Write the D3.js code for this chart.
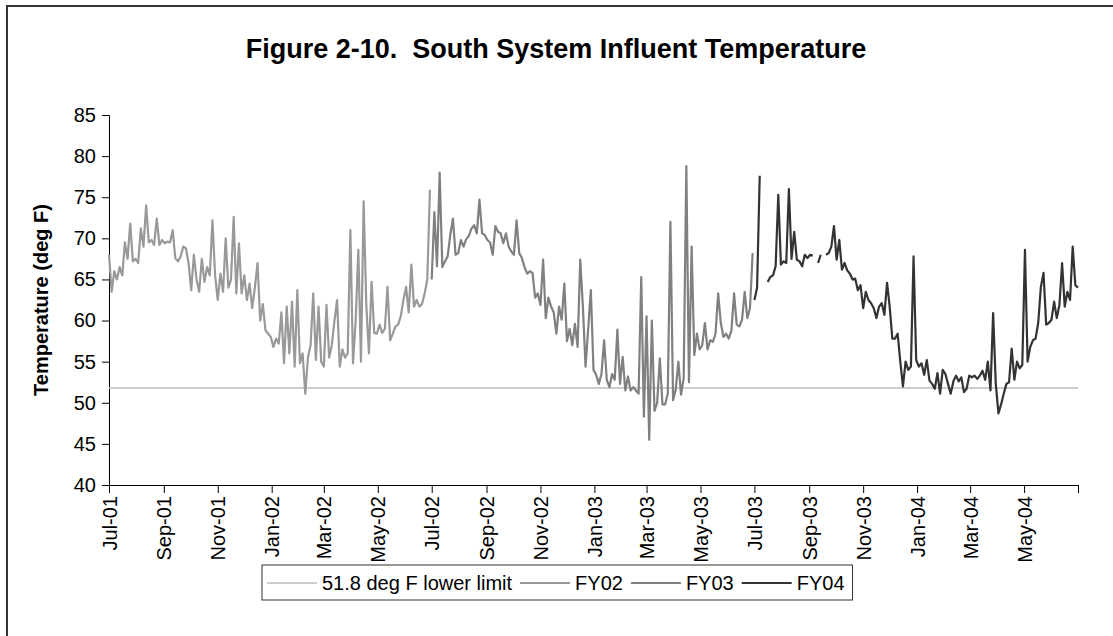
<!DOCTYPE html>
<html><head><meta charset="utf-8">
<script src="https://cdn.jsdelivr.net/npm/d3@7"></script>
<style>
body{margin:0;background:#fff}
text{font-family:"Liberation Sans",Arial,sans-serif;fill:#000}
</style>
</head><body><svg id="c" width="1113" height="636"></svg>
<script>
// ---- data (3-day sampling) ----
const stepDays = 3;
const fy02Start = [2001, 6, 1];
const fy03Start = [2002, 6, 1];
const fy04Start = [2003, 6, 1];
const fy02Temps = [
68.0,63.5,66.0,65.0,66.5,65.5,69.5,67.5,71.8,67.2,
67.5,67.0,71.2,69.0,74.0,69.5,69.8,69.2,72.4,69.2,
69.8,69.4,69.6,69.5,71.0,67.6,67.2,67.8,69.0,68.8,
67.0,63.7,68.0,65.0,63.5,67.5,64.7,66.5,65.5,72.2,
65.5,62.5,65.7,63.5,70.0,64.0,65.0,72.6,63.3,69.4,
63.3,65.5,62.5,64.5,61.5,64.0,67.0,60.0,62.0,58.8,
58.4,58.0,56.8,57.8,57.2,61.0,54.8,61.7,56.0,62.3,
54.4,63.7,54.8,56.0,51.1,55.5,57.0,63.3,55.2,61.7,
55.0,54.4,61.9,55.5,57.0,60.0,62.5,54.4,56.5,55.5,
56.0,71.0,54.8,60.0,68.6,55.0,74.5,62.0,56.0,64.7,
58.5,58.4,59.5,58.5,59.0,64.1,57.6,58.4,59.3,59.5,
60.5,62.5,64.1,61.0,66.8,61.7,62.5,61.7,62.0,63.3,
65.0,75.9];
const fy03Temps = [
65.0,73.2,66.6,78.0,66.5,67.2,67.8,70.4,72.4,68.0,
68.2,69.8,69.0,69.9,70.3,71.2,71.6,70.6,74.7,70.6,
70.4,69.8,69.5,68.0,71.5,70.8,70.6,69.4,70.6,69.0,
68.4,68.0,72.2,68.2,67.6,66.5,65.7,66.0,65.8,62.8,
63.3,61.9,67.4,60.3,62.8,61.7,61.0,58.4,61.7,60.1,
64.5,57.5,59.0,57.0,59.6,56.8,67.4,61.7,54.4,59.0,
63.7,54.0,53.4,52.3,53.5,57.6,52.8,51.9,53.5,52.8,
58.9,52.3,55.6,51.5,53.2,51.5,51.9,51.5,51.1,65.3,
48.3,60.5,45.5,60.0,49.0,50.0,55.4,49.8,49.8,51.1,
72.0,50.3,51.6,55.0,51.0,53.0,78.8,52.5,69.0,55.8,
58.4,56.5,57.0,59.7,56.5,57.6,57.4,58.4,63.3,59.7,
58.0,58.4,57.8,58.8,63.3,59.5,59.3,60.1,63.5,60.3,
61.5,68.2];
const fy04Temps = [
62.5,64.0,77.6,null,null,64.7,65.3,65.5,66.6,75.3,
66.8,67.2,67.0,76.0,67.5,70.8,67.4,67.2,66.6,68.0,
67.6,68.0,67.9,null,67.0,68.0,null,68.0,68.2,69.0,
71.5,67.4,69.8,66.2,67.0,66.1,65.7,65.0,65.1,63.7,
64.3,61.5,63.5,62.5,62.1,61.5,60.3,61.7,62.1,60.7,
64.6,61.7,57.8,57.8,58.4,55.0,52.0,55.0,54.0,54.4,
67.8,55.2,54.4,54.8,53.4,55.2,52.7,52.3,51.7,53.6,
51.1,54.0,53.5,52.3,51.1,52.6,53.3,52.6,53.1,51.3,
51.7,53.3,53.1,53.3,52.9,53.3,53.9,52.8,55.0,51.5,
60.9,52.3,48.7,49.8,51.1,52.3,52.5,56.6,52.8,55.0,
54.2,54.6,68.6,55.0,56.8,57.6,57.8,59.7,64.1,65.8,
59.5,59.7,60.1,62.3,60.3,61.9,67.0,61.7,63.5,62.5,
69.0,64.3,64.0];
const lowerLimit = 51.8;
const yTicks = [40,45,50,55,60,65,70,75,80,85];
const xTickLabels = ["Jul-01","Sep-01","Nov-01","Jan-02","Mar-02","May-02","Jul-02","Sep-02","Nov-02",
  "Jan-03","Mar-03","May-03","Jul-03","Sep-03","Nov-03","Jan-04","Mar-04","May-04",""];
const legendLabels = ["51.8 deg F lower limit","FY02","FY03","FY04"];
const titleText = "Figure 2-10.  South System Influent Temperature";
const yTitle = "Temperature (deg F)";

// ---- styles ----
const colLimit = "#bdbdbd", col02 = "#999999", col03 = "#808080", col04 = "#333333";

const svg = d3.select("#c");
const plot = {l:109, r:1078, t:115, b:485};
const x = d3.scaleTime().domain([new Date(2001,6,1), new Date(2004,6,1)]).range([plot.l, plot.r]);
const y = d3.scaleLinear().domain([40,85]).range([plot.b, plot.t]);

svg.append("rect").attr("x",7).attr("y",6).attr("width",1200).attr("height",700)
  .attr("fill","#fff").attr("stroke","#333").attr("stroke-width",2);

svg.append("text").attr("x",556).attr("y",58).attr("text-anchor","middle")
  .style("font-size","27px").style("font-weight","bold").style("white-space","pre").text(titleText);

// axes
const yAxis = svg.append("g").attr("transform",`translate(${plot.l},0)`)
  .call(d3.axisLeft(y).tickValues(yTicks).tickSize(7).tickPadding(6));
const tickDates = d3.timeMonth.range(new Date(2001,6,1), new Date(2004,6,2), 2);
const xAxis = svg.append("g").attr("transform",`translate(0,${plot.b})`)
  .call(d3.axisBottom(x).tickValues(tickDates).tickSize(8).tickFormat((d,i)=>xTickLabels[i]||""));
xAxis.selectAll("text").attr("transform","rotate(-90)").attr("text-anchor","end")
  .attr("x",-11).attr("y",0).attr("dy","0.35em");
[yAxis,xAxis].forEach(g=>{
  g.selectAll("path,line").attr("stroke","#000").attr("stroke-width",1);
  g.selectAll("text").style("font-size","20px").attr("fill","#000");
});

svg.append("text").attr("transform",`translate(41,${(plot.t+plot.b)/2}) rotate(-90)`)
  .attr("text-anchor","middle").attr("dy","0.35em")
  .style("font-size","20px").style("font-weight","bold").text(yTitle);

// series
function build(start, vals){
  const s = new Date(start[0], start[1], start[2]);
  return vals.map((v,i)=>({date:d3.timeDay.offset(s, i*stepDays), v}));
}
const line = d3.line().defined(d=>d.v!=null).x(d=>x(d.date)).y(d=>y(d.v));
svg.append("line").attr("x1",x.range()[0]).attr("x2",x.range()[1])
  .attr("y1",y(lowerLimit)).attr("y2",y(lowerLimit)).attr("stroke",colLimit).attr("stroke-width",1.5);
[[fy02Start,fy02Temps,col02],[fy03Start,fy03Temps,col03],[fy04Start,fy04Temps,col04]].forEach(([s,v,c])=>{
  svg.append("path").datum(build(s,v)).attr("d",line).attr("fill","none")
    .attr("stroke",c).attr("stroke-width",2.2).attr("stroke-linejoin","round");
});

// legend
const lg = svg.append("g").attr("transform","translate(262,565)");
const box = lg.append("rect").attr("width",588).attr("height",35).attr("fill","#fff").attr("stroke","#333").attr("stroke-width",1);
const cols = [colLimit,col02,col03,col04];
let cx = 5;
legendLabels.forEach((lab,i)=>{
  lg.append("line").attr("x1",cx).attr("x2",cx+50).attr("y1",18).attr("y2",18)
    .attr("stroke",cols[i]).attr("stroke-width", i===0?1.5:2);
  const t = lg.append("text").attr("x",cx+55).attr("y",18).attr("dy","0.35em").style("font-size","20px").text(lab);
  cx += 55 + t.node().getComputedTextLength() + 8;
});
box.attr("width", cx);
</script></body></html>
